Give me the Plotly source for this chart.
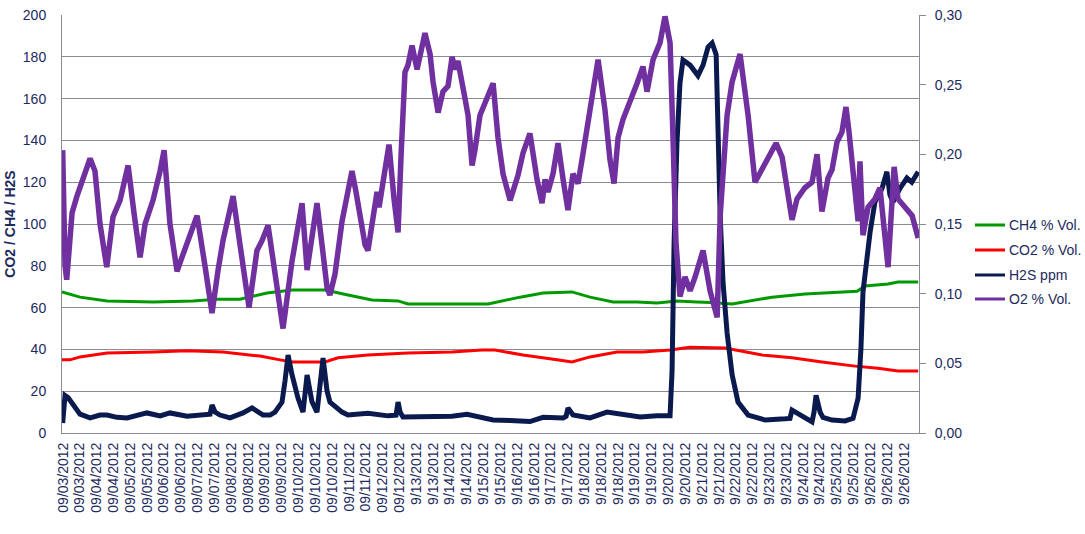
import plotly.graph_objects as go

# ---------------- data ----------------
# x positions are expressed in "label interval" units along the time axis
x_labels = ["09/03/2012", "09/03/2012", "09/04/2012", "09/04/2012", "09/05/2012", "09/05/2012",
            "09/06/2012", "09/06/2012", "09/07/2012", "09/07/2012", "09/08/2012", "09/08/2012",
            "09/09/2012", "09/09/2012", "09/10/2012", "09/10/2012", "09/10/2012", "09/11/2012",
            "09/11/2012", "09/12/2012", "09/12/2012", "9/13/2012", "9/13/2012", "9/14/2012",
            "9/14/2012", "9/15/2012", "9/15/2012", "9/16/2012", "9/16/2012", "9/17/2012",
            "9/17/2012", "9/18/2012", "9/18/2012", "9/18/2012", "9/19/2012", "9/19/2012",
            "9/20/2012", "9/20/2012", "9/21/2012", "9/21/2012", "9/22/2012", "9/22/2012",
            "9/23/2012", "9/23/2012", "9/24/2012", "9/24/2012", "9/25/2012", "9/25/2012",
            "9/26/2012", "9/26/2012", "9/26/2012"]

ch4_t = [-0.06, 1.01, 2.62, 5.35, 7.73, 9.16, 10.52, 12.13, 13.61, 15.58, 16.94, 18.37, 19.92,
         20.51, 23.13, 25.27, 27.17, 28.54, 30.26, 31.33, 32.70, 34.13, 35.32, 36.50, 37.69,
         38.47, 39.78, 40.96, 42.15, 44.11, 46.08, 47.21, 47.68, 49.05, 49.64, 50.84]
ch4_vals = [67.5, 65, 63.2, 62.7, 63.2, 64, 64, 67, 68.4, 68.4, 66, 63.6, 63.2,
            61.7, 61.7, 61.7, 65, 67, 67.5, 65, 62.7, 62.7, 62.2, 63.2, 62.7,
            62.5, 61.7, 63.2, 65, 66.5, 67.5, 67.8, 70.3, 71.3, 72.2, 72.2]

co2_t = [-0.06, 0.42, 1.01, 2.62, 5.35, 7.37, 9.51, 11.71, 12.90, 13.61, 15.58, 16.35, 18.13,
         20.51, 23.13, 24.91, 25.68, 27.35, 29.37, 30.26, 31.33, 32.94, 34.48, 36.09, 37.28,
         38.47, 39.36, 41.56, 43.34, 45.12, 47.09, 48.45, 49.64, 50.84]
co2_vals = [35, 35, 36.4, 38.3, 38.8, 39.3, 38.8, 36.8, 35, 34, 34, 36, 37.3,
            38.3, 38.8, 39.7, 39.7, 37.3, 35, 34, 36.4, 38.8, 38.8, 39.7, 41,
            41, 40.7, 37.3, 36, 34, 32, 31, 29.7, 29.7]

h2s_t = [-0.02, 0.06, 0.12, 0.30, 0.54, 1.01, 1.61, 2.20, 2.62, 3.21, 3.81, 4.58, 4.99, 5.77,
         6.36, 7.37, 8.56, 8.74, 8.86, 9.04, 9.33, 9.93, 10.70, 11.24, 11.89, 12.31, 12.60,
         13.02, 13.20, 13.38, 13.61, 13.97, 14.27, 14.51, 14.80, 15.10, 15.46, 15.70, 15.87,
         16.59, 16.94, 18.13, 19.32, 19.80, 19.92, 20.04, 20.21, 21.11, 22.12, 23.13, 24.02,
         24.91, 25.57, 26.58, 27.76, 28.54, 29.73, 29.91, 30.02, 30.32, 31.33, 32.34, 33.29,
         34.31, 35.32, 36.09, 36.21, 36.33, 36.50, 36.68, 36.86, 37.28, 37.75, 38.05, 38.35,
         38.59, 38.83, 38.94, 39.07, 39.24, 39.48, 39.78, 40.13, 40.73, 41.74, 42.93, 43.22,
         43.34, 44.11, 44.53, 44.65, 44.77, 45.01, 45.18, 45.72, 46.49, 46.97, 47.27, 47.44,
         47.56, 47.80, 47.98, 48.27, 48.69, 48.98, 49.16, 49.34, 49.76, 50.17, 50.46, 50.84]
h2s_vals = [4.8, 16, 18, 17, 14, 9, 7.2, 8.6, 8.6, 7.5, 7.2, 8.6, 9.6, 8.2,
            9.6, 8.0, 8.6, 9.0, 13.4, 10, 8.6, 7.2, 9.6, 12, 8.6, 8.6, 10,
            14.8, 25, 37.3, 28, 16.7, 10, 27.8, 15, 10, 35.9, 20, 14.8,
            10, 8.6, 9.5, 8.2, 8.5, 14.8, 10, 7.7, 7.7, 8.2, 8.0, 9.0,
            7.7, 6.2, 6.0, 5.5, 7.5, 7.2, 8.0, 12, 8.6, 7.2, 10, 8.6,
            7.7, 8.2, 8.2, 30, 91, 138.8, 167.5, 178.5, 176, 171, 176, 184.7,
            186.6, 181, 144, 104, 72, 48, 27.8, 14.8, 8.6, 6.2, 6.8, 7.0,
            11, 7.0, 5.3, 10, 18, 10, 7.5, 6.2, 5.8, 7.0, 16.7, 40.7,
            67.5, 83.7, 96, 110.5, 117, 125, 114, 110.5, 117, 122, 120, 125]

o2_t = [-0.02, 0.12, 0.22, 0.36, 0.54, 0.83, 1.19, 1.61, 1.90, 2.20, 2.60, 2.97, 3.39, 3.87,
        4.22, 4.58, 4.88, 5.35, 5.77, 6.01, 6.36, 6.78, 7.07, 7.55, 7.97, 8.44, 8.86, 9.22,
        9.51, 10.11, 10.58, 11.06, 11.53, 11.83, 12.19, 12.54, 12.84, 13.08, 13.61, 13.97,
        14.21, 14.51, 14.80, 15.10, 15.40, 15.70, 15.87, 16.17, 16.59, 16.94, 17.18, 17.42,
        17.66, 17.96, 18.13, 18.55, 18.67, 18.79, 19.14, 19.38, 19.68, 19.92, 20.10, 20.33,
        20.51, 20.75, 21.05, 21.23, 21.52, 21.82, 22.00, 22.30, 22.59, 22.89, 23.13, 23.31,
        23.48, 23.90, 24.08, 24.32, 24.49, 24.79, 25.21, 25.57, 25.86, 26.16, 26.58, 26.87,
        27.05, 27.35, 27.76, 28.18, 28.48, 28.66, 28.83, 29.13, 29.43, 29.73, 30.02, 30.32,
        30.62, 30.92, 31.21, 31.51, 31.81, 32.22, 32.52, 32.76, 33.00, 33.29, 33.83, 34.13,
        34.48, 34.72, 35.08, 35.49, 35.79, 36.09, 36.27, 36.44, 36.68, 36.98, 37.28, 37.58,
        38.05, 38.47, 38.89, 39.07, 39.48, 39.78, 40.25, 40.73, 41.14, 41.62, 42.03, 42.39,
        42.75, 43.10, 43.34, 43.64, 44.11, 44.53, 44.83, 45.12, 45.48, 45.72, 46.02, 46.31,
        46.55, 46.73, 46.97, 47.27, 47.38, 47.56, 47.86, 48.27, 48.57, 49.05, 49.41, 49.64,
        50.06, 50.48, 50.84]
o2_vals = [0.203, 0.120, 0.110, 0.135, 0.158, 0.170, 0.182, 0.197, 0.188, 0.150, 0.119, 0.155,
           0.167, 0.192, 0.158, 0.126, 0.150, 0.167, 0.188, 0.203, 0.150, 0.116, 0.126, 0.143,
           0.156, 0.120, 0.086, 0.117, 0.138, 0.170, 0.128, 0.090, 0.131, 0.138, 0.149, 0.120,
           0.090, 0.075, 0.123, 0.152, 0.165, 0.117, 0.143, 0.165, 0.135, 0.104, 0.099, 0.114,
           0.152, 0.176, 0.188, 0.173, 0.156, 0.135, 0.131, 0.166, 0.173, 0.162, 0.192, 0.207,
           0.168, 0.144, 0.200, 0.259, 0.264, 0.278, 0.261, 0.273, 0.287, 0.272, 0.252, 0.230,
           0.245, 0.249, 0.270, 0.261, 0.267, 0.240, 0.228, 0.192, 0.203, 0.228, 0.240, 0.251,
           0.212, 0.186, 0.167, 0.179, 0.185, 0.201, 0.215, 0.182, 0.165, 0.182, 0.173, 0.186,
           0.208, 0.182, 0.160, 0.186, 0.179, 0.201, 0.225, 0.248, 0.268, 0.232, 0.196, 0.179,
           0.212, 0.225, 0.241, 0.251, 0.263, 0.245, 0.268, 0.280, 0.299, 0.280, 0.210, 0.137,
           0.098, 0.112, 0.102, 0.112, 0.131, 0.102, 0.083, 0.156, 0.228, 0.252, 0.272, 0.228,
           0.180, 0.191, 0.200, 0.208, 0.198, 0.168, 0.153, 0.168, 0.176, 0.180, 0.200, 0.159,
           0.183, 0.189, 0.209, 0.216, 0.234, 0.216, 0.185, 0.152, 0.195, 0.142, 0.162, 0.168,
           0.176, 0.119, 0.191, 0.168, 0.162, 0.156, 0.140]

left_ticks = list(range(0, 201, 20))
right_ticks = [0.00, 0.05, 0.10, 0.15, 0.20, 0.25, 0.30]
series_names = ["CH4 % Vol.", "CO2 % Vol.", "H2S ppm", "O2 % Vol."]

# ---------------- styles ----------------
TXT = "#1C2A5E"
GRID = "#8A8A96"
COLORS = ["#009A00", "#FF0000", "#0B1A4E", "#7030A0"]
FONT = "Liberation Sans, Arial, sans-serif"
W, H = 1085, 534
ML, MR, MT, MB = 62, 166, 15, 101
PW, PH = W - ML - MR, H - MT - MB

fig = go.Figure()
fig.add_trace(go.Scatter(x=ch4_t, y=ch4_vals, mode="lines", name=series_names[0],
                         line=dict(color=COLORS[0], width=3)))
fig.add_trace(go.Scatter(x=co2_t, y=co2_vals, mode="lines", name=series_names[1],
                         line=dict(color=COLORS[1], width=3)))
fig.add_trace(go.Scatter(x=h2s_t, y=h2s_vals, mode="lines", name=series_names[2],
                         line=dict(color=COLORS[2], width=5)))
fig.add_trace(go.Scatter(x=o2_t, y=o2_vals, mode="lines", name=series_names[3], yaxis="y2",
                         line=dict(color=COLORS[3], width=5.5)))

# legend drawn in the right margin (line sample + label), like the original
shapes, annots = [], []
leg_rows_px = [225, 250, 275, 299]
for nm, col, ypx in zip(series_names, COLORS, leg_rows_px):
    yp = (H - MB - ypx) / PH
    shapes.append(dict(type="line", xref="paper", yref="paper",
                       x0=(975 - ML) / PW, x1=(1005 - ML) / PW, y0=yp, y1=yp,
                       line=dict(color=col, width=3)))
    annots.append(dict(xref="paper", yref="paper", x=(1007 - ML) / PW, y=yp,
                       xanchor="left", yanchor="middle", text=nm, showarrow=False,
                       font=dict(family=FONT, size=14, color=TXT)))

fig.update_layout(
    width=W, height=H,
    margin=dict(l=ML, r=MR, t=MT, b=MB),
    paper_bgcolor="white", plot_bgcolor="white",
    separators=", ",
    font=dict(family=FONT, size=14, color=TXT),
    showlegend=False,
    shapes=shapes, annotations=annots,
    xaxis=dict(range=[-0.06, 50.89], tickmode="array", tickvals=list(range(len(x_labels))),
               ticktext=x_labels, tickangle=-90, showgrid=False, zeroline=False,
               showline=True, linecolor=GRID, linewidth=1, ticks="", automargin=False,
               ticklabelstandoff=3,
               tickfont=dict(family=FONT, size=14, color=TXT)),
    yaxis=dict(range=[0, 200], tickmode="array", tickvals=left_ticks,
               showgrid=True, gridcolor=GRID, gridwidth=1, zeroline=False,
               showline=True, linecolor=GRID, linewidth=1, ticks="", automargin=False,
               ticklabelstandoff=12,
               tickfont=dict(family=FONT, size=14, color=TXT),
               title=dict(text="<b>CO2 / CH4 / H2S</b>", font=dict(family=FONT, size=14, color=TXT),
                          standoff=3)),
    yaxis2=dict(range=[0, 0.30], overlaying="y", side="right", tickmode="array",
                tickvals=right_ticks, tickformat=".2f", showgrid=False, zeroline=False,
                showline=True, linecolor=GRID, linewidth=1, ticks="outside", ticklen=6,
                tickcolor=GRID, ticklabelstandoff=6, automargin=False,
                tickfont=dict(family=FONT, size=14, color=TXT)),
)

fig.write_html("out.html", config={"displayModeBar": False},
               post_script="document.body.style.margin='0';document.body.style.overflow='hidden';")
